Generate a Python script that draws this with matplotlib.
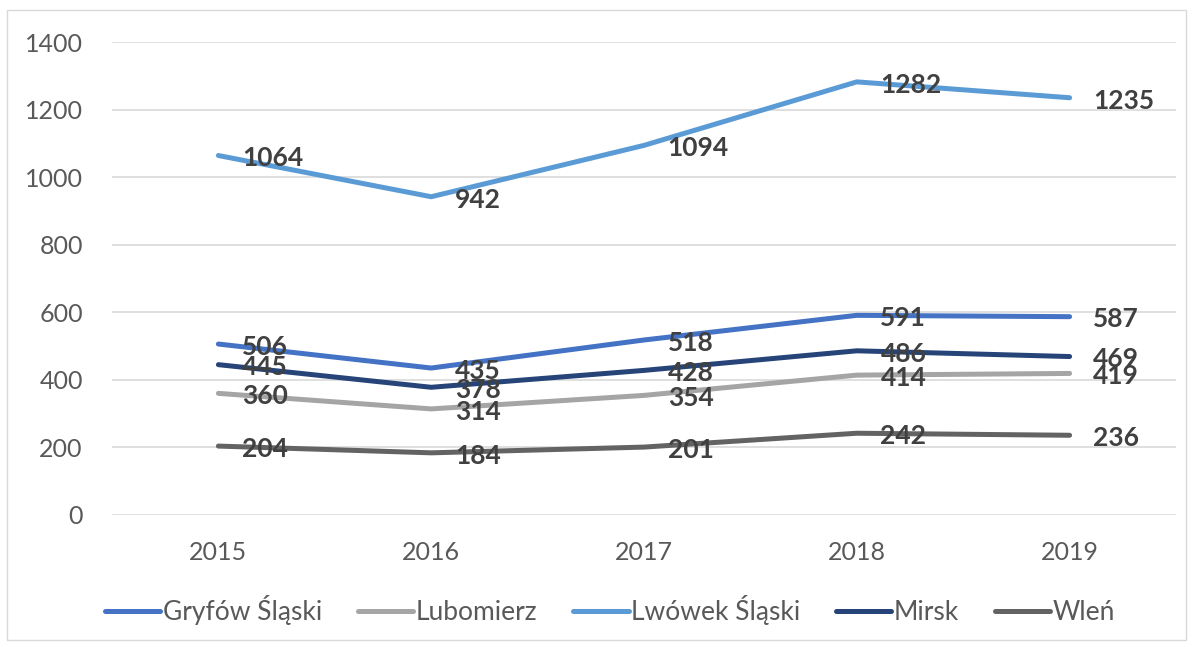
import matplotlib
matplotlib.use("Agg")
import matplotlib.pyplot as plt
from matplotlib.patches import Rectangle

years = ["2015", "2016", "2017", "2018", "2019"]
gryfow = [506, 435, 518, 591, 587]
lubomierz = [360, 314, 354, 414, 419]
lwowek = [1064, 942, 1094, 1282, 1235]
mirsk = [445, 378, 428, 486, 469]
wlen = [204, 184, 201, 242, 236]
series_names = ["Gryfów Śląski", "Lubomierz", "Lwówek Śląski", "Mirsk", "Wleń"]
series = [gryfow, lubomierz, lwowek, mirsk, wlen]
colors = ["#4472C4", "#A5A5A5", "#5B9BD5", "#264478", "#636363"]
yticks = [0, 200, 400, 600, 800, 1000, 1200, 1400]

plt.rcParams['font.family'] = ['Lato', 'DejaVu Sans']

fig = plt.figure(figsize=(11.94, 6.47), dpi=100)
fig.patches.append(Rectangle((7/1194, 1-640/647), 1179/1194, 630/647, transform=fig.transFigure,
                             fill=False, edgecolor="#D9D9D9", linewidth=1.0))
ax = fig.add_axes([112/1194, 1-515/647, 1064/1194, 473/647])
x = list(range(len(years)))
for name, vals, c in zip(series_names, series, colors):
    ax.plot(x, vals, color=c, linewidth=3.6, solid_capstyle='round', label=name)
    for xi, v in zip(x, vals):
        ax.annotate(str(v), (xi, v), xytext=(17, -2), textcoords='offset points',
                    ha='left', va='center', fontsize=19, fontweight='bold', color='#404040')

ax.set_xlim(-0.5, 4.5)
ax.set_ylim(0, 1400)
ax.set_yticks(yticks)
ax.set_xticks(x)
ax.set_xticklabels(years)
ax.yaxis.grid(True, color="#D9D9D9", linewidth=1.2)
ax.set_axisbelow(True)
for s in ax.spines.values():
    s.set_visible(False)
ax.tick_params(axis='both', length=0, labelsize=18, colors='#595959')
ax.tick_params(axis='y', pad=21)
ax.tick_params(axis='x', pad=19)

leg = fig.legend(loc='center', bbox_to_anchor=(0.511, 1-610/647), ncol=5, frameon=False,
                 fontsize=19, handlelength=2.1, columnspacing=1.35, handletextpad=0.1)
for t in leg.get_texts():
    t.set_color('#595959')

fig.savefig("out.png", dpi=100)
